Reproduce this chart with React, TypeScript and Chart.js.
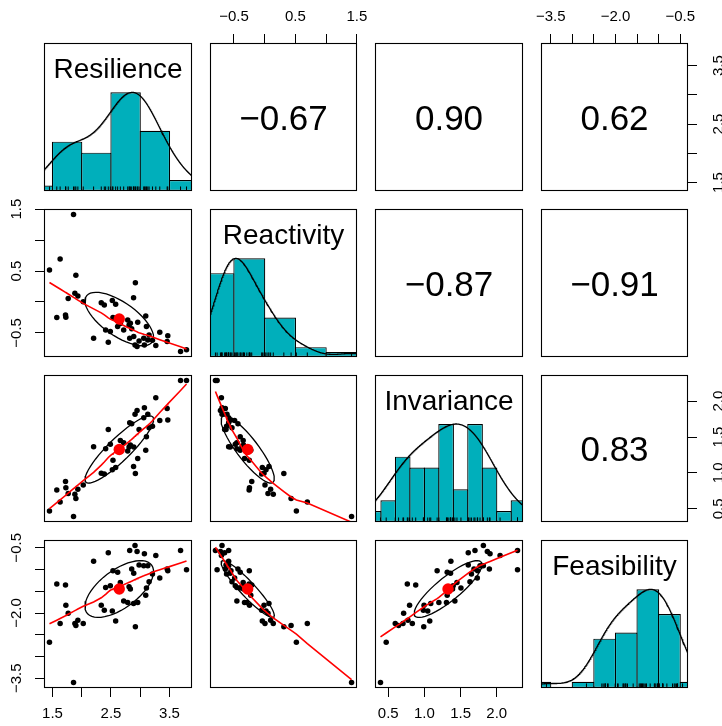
import React, { useEffect, useRef } from "react";
import { Chart, registerables } from "chart.js";
Chart.register(...registerables);

// ---------------- data ----------------
const variableNames = ["Resilience", "Reactivity", "Invariance", "Feasibility"];

const resilience = [1.449, 1.574, 1.631, 1.723, 1.729, 1.769, 1.86, 1.9, 1.883, 1.934, 2.026, 2.203, 2.409, 2.334, 2.386, 2.454, 2.489, 2.523, 2.534, 2.58, 2.614, 2.66, 2.717, 2.786, 2.809, 2.831, 2.854, 2.82, 2.946, 2.911, 2.98, 2.889, 2.957, 2.886, 2.917, 3.071, 3.129, 3.06, 3.151, 3.106, 3.094, 3.209, 3.266, 3.334, 3.46, 3.471, 3.689, 3.791];
const reactivity = [0.516, -0.253, 0.694, -0.21, -0.247, 0.054, 1.414, 0.43, 0.14, 0.097, 0.005, -0.586, -0.452, -0.011, -0.048, -0.651, -0.478, 0.022, -0.25, -0.038, -0.398, -0.35, -0.452, -0.29, -0.371, -0.344, -0.435, -0.586, -0.72, -0.694, -0.629, -0.559, -0.328, 0.07, 0.312, -0.694, -0.613, -0.586, -0.532, -0.398, -0.226, -0.62, -0.704, -0.489, -0.64, -0.548, -0.801, -0.774];
const invariance = [0.472, 0.764, 0.597, 0.88, 0.795, 0.713, 0.393, 0.643, 0.704, 0.773, 0.833, 1.366, 1.338, 0.995, 0.985, 1.606, 1.398, 1.046, 1.176, 1.074, 1.315, 1.45, 1.421, 1.305, 1.361, 1.389, 1.685, 1.699, 1.87, 1.815, 1.606, 1.361, 1.2, 1.088, 0.991, 1.907, 1.815, 1.769, 1.63, 1.505, 1.315, 1.65, 2.046, 1.731, 1.898, 1.736, 2.287, 2.287];
const feasibility = [-2.672, -1.335, -2.239, -1.358, -1.821, -2.007, -3.599, -2.285, -2.239, -2.169, -2.239, -0.809, -1.412, -1.821, -1.937, -0.616, -1.373, -1.953, -1.025, -2.185, -1.064, -1.3, -1.721, -1.76, -1.396, -1.45, -0.987, -0.562, -0.585, -0.446, -0.894, -1.087, -1.76, -1.783, -2.316, -0.639, -0.91, -0.91, -1.281, -1.427, -1.59, -1.1, -0.678, -1.196, -0.987, -1.025, -0.562, -1.002];

// correlations shown in the upper panels: (1,2) (1,3) (1,4) (2,3) (2,4) (3,4)
const correlations = [-0.67, 0.9, 0.62, -0.87, -0.91, 0.83];

const resilienceBreaks = [1.0, 1.5, 2.0, 2.5, 3.0, 3.5, 4.0];
const reactivityBreaks = [-1.0, -0.5, 0.0, 0.5, 1.0, 1.5];
const invarianceBreaks = [0.2, 0.4, 0.6, 0.8, 1.0, 1.2, 1.4, 1.6, 1.8, 2.0, 2.2, 2.4];
const feasibilityBreaks = [-4.0, -3.5, -3.0, -2.5, -2.0, -1.5, -1.0, -0.5, 0.0];

const resilienceTicks = [1.5, 2.0, 2.5, 3.0, 3.5];
const reactivityTicks = [-0.5, 0.0, 0.5, 1.0, 1.5];
const invarianceTicks = [0.5, 1.0, 1.5, 2.0];
const feasibilityTicks = [-3.5, -3.0, -2.5, -2.0, -1.5, -1.0, -0.5];

const resilienceTickLabels = ["1.5", "", "2.5", "", "3.5"];
const reactivityTickLabels = ["\u22120.5", "", "0.5", "", "1.5"];
const invarianceTickLabels = ["0.5", "1.0", "1.5", "2.0"];
const feasibilityTickLabels = ["\u22123.5", "", "", "\u22122.0", "", "", "\u22120.5"];

const allVars = [resilience, reactivity, invariance, feasibility];
const allBreaks = [resilienceBreaks, reactivityBreaks, invarianceBreaks, feasibilityBreaks];
const allTicks = [resilienceTicks, reactivityTicks, invarianceTicks, feasibilityTicks];
const allTickLabels = [resilienceTickLabels, reactivityTickLabels, invarianceTickLabels, feasibilityTickLabels];

// ---------------- layout / style ----------------
const W = 722;
const H = 726;
const colBounds = [[44, 192], [210, 357], [375, 523], [541, 688]];
const rowBounds = [[43, 191], [209, 357], [375, 522], [540, 688]];
const FONT = '"Liberation Sans", Arial, Helvetica, sans-serif';
const HIST_COL = "#00AFBB";
const TICK_LEN = 9;

// ---------------- helpers ----------------
const mean = (v: number[]) => v.reduce((a, b) => a + b, 0) / v.length;
const sd = (v: number[]) => {
  const m = mean(v);
  return Math.sqrt(v.reduce((a, b) => a + (b - m) * (b - m), 0) / (v.length - 1));
};
const cor = (a: number[], b: number[]) => {
  const ma = mean(a), mb = mean(b);
  let sab = 0, saa = 0, sbb = 0;
  for (let k = 0; k < a.length; k++) {
    sab += (a[k] - ma) * (b[k] - mb);
    saa += (a[k] - ma) ** 2;
    sbb += (b[k] - mb) ** 2;
  }
  return sab / Math.sqrt(saa * sbb);
};
const rangeOf = (v: number[]) => {
  const mn = Math.min(...v), mx = Math.max(...v);
  const d = (mx - mn) * 0.04;
  return [mn - d, mx + d];
};
const quantile = (s: number[], p: number) => {
  const h = (s.length - 1) * p;
  const lo = Math.floor(h);
  const hi = Math.min(lo + 1, s.length - 1);
  return s[lo] + (h - lo) * (s[hi] - s[lo]);
};

function histCounts(v: number[], br: number[]) {
  const counts = new Array(br.length - 1).fill(0);
  for (const x of v) {
    for (let k = 0; k < br.length - 1; k++) {
      const lo = br[k], hi = br[k + 1];
      if ((x > lo + 1e-9 || (k === 0 && x >= lo)) && x <= hi + 1e-9) {
        counts[k]++;
        break;
      }
    }
  }
  return counts;
}

function densityCurve(v: number[]) {
  const n = v.length;
  const s = [...v].sort((a, b) => a - b);
  const iqr = quantile(s, 0.75) - quantile(s, 0.25);
  const bw = 1.06 * Math.min(sd(v), iqr / 1.34) * Math.pow(n, -0.2) * 1.2;
  const lo = s[0] - 3 * bw, hi = s[n - 1] + 3 * bw;
  const pts: { x: number; y: number }[] = [];
  for (let k = 0; k < 512; k++) {
    const x = lo + ((hi - lo) * k) / 511;
    let y = 0;
    for (const xi of v) {
      const z = (x - xi) / bw;
      y += Math.exp(-0.5 * z * z);
    }
    pts.push({ x, y });
  }
  const m = Math.max(...pts.map((p) => p.y));
  return pts.map((p) => ({ x: p.x, y: p.y / m }));
}

function ellipsePoints(xs: number[], ys: number[]) {
  const xm = mean(xs), ym = mean(ys), sx = sd(xs), sy = sd(ys), r = cor(xs, ys);
  const th = (Math.abs(r) > 0 ? Math.sign(r) : 1) / Math.SQRT2;
  const a = Math.sqrt(1 + r), b = Math.sqrt(1 - r);
  const pts: { x: number; y: number }[] = [];
  const seg = 51;
  for (let k = 0; k <= seg; k++) {
    const ang = (k * 2 * Math.PI) / seg;
    const c = Math.cos(ang), s = Math.sin(ang);
    const ex = c * a * th - s * b * th;
    const ey = c * a * th + s * b * th;
    pts.push({ x: ex * sx + xm, y: ey * sy + ym });
  }
  return pts;
}

// port of R's clowess
function lowess(xIn: number[], yIn: number[], f = 2 / 3, nsteps = 3) {
  const n = xIn.length;
  const ord = xIn.map((_, k) => k).sort((a, b) => xIn[a] - xIn[b]);
  const x = [0, ...ord.map((k) => xIn[k])];
  const y = [0, ...ord.map((k) => yIn[k])];
  const ys = new Array(n + 1).fill(0);
  const rw = new Array(n + 1).fill(1);
  const res = new Array(n + 1).fill(0);
  const range = x[n] - x[1];
  const delta = 0.01 * range;
  const ns = Math.max(2, Math.min(n, Math.floor(f * n + 1e-7)));
  const lowest = (xs: number, nleft: number, nright: number, userw: boolean): number | null => {
    const h = Math.max(xs - x[nleft], x[nright] - xs);
    const h9 = 0.999 * h, h1 = 0.001 * h;
    const w = new Array(n + 2).fill(0);
    let a = 0;
    let j = nleft;
    while (j <= n) {
      w[j] = 0;
      const r = Math.abs(x[j] - xs);
      if (r <= h9) {
        w[j] = r <= h1 ? 1 : Math.pow(1 - Math.pow(r / h, 3), 3);
        if (userw) w[j] *= rw[j];
        a += w[j];
      } else if (x[j] > xs) break;
      j++;
    }
    const nrt = j - 1;
    if (a <= 0) return null;
    for (j = nleft; j <= nrt; j++) w[j] /= a;
    if (h > 0) {
      a = 0;
      for (j = nleft; j <= nrt; j++) a += w[j] * x[j];
      let b = xs - a;
      let c = 0;
      for (j = nleft; j <= nrt; j++) c += w[j] * (x[j] - a) * (x[j] - a);
      if (Math.sqrt(c) > 0.001 * range) {
        b /= c;
        for (j = nleft; j <= nrt; j++) w[j] *= b * (x[j] - a) + 1;
      }
    }
    let out = 0;
    for (j = nleft; j <= nrt; j++) out += w[j] * y[j];
    return out;
  };
  let iter = 1;
  while (iter <= nsteps + 1) {
    let nleft = 1, nright = ns, last = 0, i = 1;
    for (;;) {
      if (nright < n) {
        const d1 = x[i] - x[nleft], d2 = x[nright + 1] - x[i];
        if (d1 > d2) {
          nleft++;
          nright++;
          continue;
        }
      }
      const v = lowest(x[i], nleft, nright, iter > 1);
      ys[i] = v === null ? y[i] : v;
      if (last < i - 1) {
        const denom = x[i] - x[last];
        for (let j = last + 1; j < i; j++) {
          const al = (x[j] - x[last]) / denom;
          ys[j] = al * ys[i] + (1 - al) * ys[last];
        }
      }
      last = i;
      const cut = x[last] + delta;
      for (i = last + 1; i <= n; i++) {
        if (x[i] > cut) break;
        if (x[i] === x[last]) {
          ys[i] = ys[last];
          last = i;
        }
      }
      i = Math.max(last + 1, i - 1);
      if (last >= n) break;
    }
    for (let k = 1; k <= n; k++) res[k] = y[k] - ys[k];
    let sc = 0;
    for (let k = 1; k <= n; k++) sc += Math.abs(res[k]);
    sc /= n;
    if (iter > nsteps) break;
    const ar = res.slice(1).map(Math.abs).sort((a, b) => a - b);
    const m1 = Math.floor(n / 2);
    let cmad: number;
    if (n % 2 === 0) {
      const m2 = n - m1 - 1;
      cmad = 3 * (ar[m1] + ar[m2]);
    } else cmad = 6 * ar[m1];
    if (cmad < 1e-7 * sc) break;
    const c9 = 0.999 * cmad, c1 = 0.001 * cmad;
    for (let k = 1; k <= n; k++) {
      const r = Math.abs(res[k]);
      rw[k] = r <= c1 ? 1 : r <= c9 ? Math.pow(1 - Math.pow(r / cmad, 2), 2) : 0;
    }
    iter++;
  }
  return x.slice(1).map((xv, k) => ({ x: xv, y: ys[k + 1] }));
}

const fmtCor = (r: number) => r.toFixed(2).replace("-", "\u2212");

function corrLabel(i: number, j: number) {
  const pairs = [[0, 1], [0, 2], [0, 3], [1, 2], [1, 3], [2, 3]];
  const idx = pairs.findIndex((p) => p[0] === i && p[1] === j);
  return idx >= 0 ? fmtCor(correlations[idx]) : "";
}

const decorPlugin = {
  id: "panelDecor",
  afterDraw(chart: any, _args: any, opts: any) {
    const { ctx, chartArea: a } = chart;
    ctx.save();
    ctx.fillStyle = "#000";
    ctx.textAlign = "center";
    ctx.textBaseline = "alphabetic";
    const cx = (a.left + a.right) / 2;
    if (opts.label) {
      ctx.font = `28px ${FONT}`;
      ctx.fillText(opts.label, cx, a.top + 34.5);
    }
    if (opts.corr) {
      ctx.font = `35px ${FONT}`;
      ctx.fillText(opts.corr, cx, (a.top + a.bottom) / 2 + 12.5);
    }
    ctx.strokeStyle = "#000";
    ctx.lineWidth = 1.1;
    ctx.strokeRect(a.left + 0.5, a.top + 0.5, a.right - a.left - 1, a.bottom - a.top - 1);
    ctx.restore();
  },
};

const zeroPad = (s: any) => {
  s.paddingLeft = 0;
  s.paddingRight = 0;
  s.paddingTop = 0;
  s.paddingBottom = 0;
};

function buildConfig(i: number, j: number): any {
  const [x0, x1] = colBounds[j];
  const [y0, y1] = rowBounds[i];
  const hasTop = i === 0 && j % 2 === 1;
  const hasBottom = i === 3 && j % 2 === 0;
  const hasLeft = j === 0 && i % 2 === 1;
  const hasRight = j === 3 && i % 2 === 0;
  const xr = rangeOf(allVars[j]);
  const yr = i === j ? [0, 1.5] : rangeOf(allVars[i]);
  const datasets: any[] = [];

  if (i === j) {
    const v = allVars[i];
    const br = allBreaks[i];
    const counts = histCounts(v, br);
    const maxC = Math.max(...counts);
    const binPx = ((x1 - x0) * (br[1] - br[0])) / (xr[1] - xr[0]);
    datasets.push({
      type: "bar",
      data: counts.map((c, k) => ({ x: (br[k] + br[k + 1]) / 2, y: c / maxC })),
      backgroundColor: HIST_COL,
      borderColor: "#000",
      borderWidth: 1.2,
      borderSkipped: false,
      barPercentage: (binPx + 1.2) / binPx,
      categoryPercentage: 1,
      clip: 0,
      order: 3,
    });
    datasets.push({
      type: "line",
      data: densityCurve(v),
      borderColor: "#000",
      borderWidth: 1.3,
      pointRadius: 0,
      fill: false,
      tension: 0,
      clip: 0,
      order: 2,
    });
    datasets.push({
      type: "scatter",
      data: v.map((x) => ({ x, y: 0.0225 })),
      pointStyle: "line",
      rotation: 90,
      pointRadius: 2.3,
      borderColor: "#000",
      borderWidth: 1,
      clip: 0,
      order: 1,
    });
  } else if (i > j) {
    const xs = allVars[j], ys = allVars[i];
    datasets.push({
      type: "line",
      data: lowess(xs, ys),
      borderColor: "#FF0000",
      borderWidth: 1.6,
      pointRadius: 0,
      fill: false,
      tension: 0,
      order: 0,
    });
    datasets.push({
      type: "line",
      data: ellipsePoints(xs, ys),
      borderColor: "#000",
      borderWidth: 1.3,
      pointRadius: 0,
      fill: false,
      tension: 0,
      order: 1,
    });
    datasets.push({
      type: "scatter",
      data: [{ x: mean(xs), y: mean(ys) }],
      pointRadius: 5.7,
      backgroundColor: "#FF0000",
      borderWidth: 0,
      order: 2,
    });
    datasets.push({
      type: "scatter",
      data: xs.map((x, k) => ({ x, y: ys[k] })),
      pointRadius: 2.75,
      backgroundColor: "#000",
      borderWidth: 0,
      order: 3,
    });
  }

  const tickFont = { family: FONT, size: 15 };
  const gridOpts = {
    display: true,
    drawOnChartArea: false,
    drawTicks: true,
    tickLength: TICK_LEN,
    color: "#000",
    lineWidth: 1,
  };

  const xScale: any = {
    type: "linear",
    min: xr[0],
    max: xr[1],
    offset: false,
    display: hasTop || hasBottom,
    position: hasTop ? "top" : "bottom",
    grid: gridOpts,
    border: { display: false },
    afterBuildTicks: (s: any) => {
      const tv = i === j ? allBreaks[j] : allTicks[j];
      s.ticks = tv.map((value) => ({ value }));
    },
    ticks: {
      autoSkip: false,
      minRotation: 0,
      maxRotation: 0,
      padding: 8,
      color: "#000",
      font: tickFont,
      callback: (_v: any, idx: number) => allTickLabels[j][idx] ?? "",
    },
  };
  if (hasTop || hasBottom) {
    xScale.afterFit = (s: any) => {
      s.height = hasTop ? y0 : H - y1;
      zeroPad(s);
    };
  }

  const yScale: any = {
    type: "linear",
    min: yr[0],
    max: yr[1],
    offset: false,
    display: hasLeft || hasRight,
    position: hasLeft ? "left" : "right",
    grid: gridOpts,
    border: { display: false },
    afterBuildTicks: (s: any) => {
      if (i !== j) s.ticks = allTicks[i].map((value) => ({ value }));
    },
    ticks: {
      autoSkip: false,
      minRotation: 90,
      maxRotation: 90,
      crossAlign: "center",
      padding: hasLeft ? 3.5 : 11.5,
      color: "#000",
      font: tickFont,
      callback: (_v: any, idx: number) => allTickLabels[i][idx] ?? "",
    },
  };
  if (hasLeft || hasRight) {
    yScale.afterFit = (s: any) => {
      s.width = hasLeft ? x0 : W - x1;
      zeroPad(s);
    };
  }

  return {
    type: "scatter",
    data: { datasets },
    plugins: [decorPlugin],
    options: {
      responsive: false,
      animation: false,
      events: [],
      layout: {
        padding: {
          left: hasLeft ? 0 : x0,
          right: hasRight ? 0 : W - x1,
          top: hasTop ? 0 : y0,
          bottom: hasBottom ? 0 : H - y1,
        },
      },
      plugins: {
        legend: { display: false },
        tooltip: { enabled: false },
        panelDecor: {
          label: i === j ? variableNames[i] : "",
          corr: i < j ? corrLabel(i, j) : "",
        },
      },
      scales: { x: xScale, y: yScale },
    },
  };
}

export default function App() {
  const refs = useRef<(HTMLCanvasElement | null)[]>([]);
  useEffect(() => {
    const charts: Chart[] = [];
    for (let i = 0; i < 4; i++) {
      for (let j = 0; j < 4; j++) {
        const c = refs.current[i * 4 + j];
        if (!c) continue;
        charts.push(new Chart(c, buildConfig(i, j)));
      }
    }
    return () => charts.forEach((ch) => ch.destroy());
  }, []);
  return (
    <div style={{ position: "absolute", left: 0, top: 0, width: W, height: H, background: "#fff", overflow: "hidden" }}>
      {Array.from({ length: 16 }).map((_, k) => (
        <canvas
          key={k}
          ref={(el) => {
            refs.current[k] = el;
          }}
          width={W}
          height={H}
          style={{ position: "absolute", left: 0, top: 0, width: W, height: H }}
        />
      ))}
    </div>
  );
}
